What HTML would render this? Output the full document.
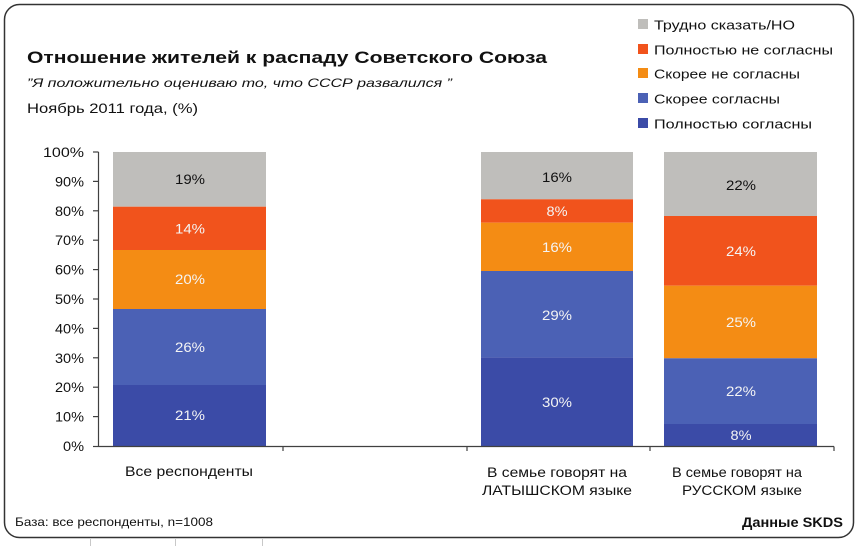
<!DOCTYPE html>
<html>
<head>
<meta charset="utf-8">
<style>
  html,body{margin:0;padding:0;background:#fff;}
  svg{display:block;}
  text{font-family:"Liberation Sans","DejaVu Sans",sans-serif;}
</style>
</head>
<body>
<svg width="860" height="546" viewBox="0 0 860 546" xmlns="http://www.w3.org/2000/svg">
  <rect x="0" y="0" width="860" height="546" fill="#fff"/>
  <g stroke="#c8c8c8" stroke-width="1">
    <line x1="90.5" y1="539" x2="90.5" y2="546"/>
    <line x1="175.5" y1="539" x2="175.5" y2="546"/>
    <line x1="262.5" y1="539" x2="262.5" y2="546"/>
  </g>
  <rect x="4.5" y="4.5" width="849" height="533" rx="15" ry="15" fill="#fff" stroke="#333" stroke-width="1.5"/>

  <text x="27" y="63" font-size="17" font-weight="bold" fill="#111" textLength="520" lengthAdjust="spacingAndGlyphs">Отношение жителей к распаду Советского Союза</text>
  <text x="27" y="87" font-size="12" font-style="italic" fill="#111" textLength="425" lengthAdjust="spacingAndGlyphs">”Я положительно оцениваю то, что СССР развалился ”</text>
  <text x="27" y="113" font-size="14" fill="#111" textLength="171" lengthAdjust="spacingAndGlyphs">Ноябрь 2011 года, (%)</text>

  <rect x="638" y="19" width="10" height="10" fill="#BFBEBB"/>
  <text x="654" y="29.5" font-size="13" fill="#111" textLength="141" lengthAdjust="spacingAndGlyphs">Трудно сказать/НО</text>
  <rect x="638" y="44" width="10" height="10" fill="#F1531C"/>
  <text x="654" y="54.5" font-size="13" fill="#111" textLength="179" lengthAdjust="spacingAndGlyphs">Полностью не согласны</text>
  <rect x="638" y="68" width="10" height="10" fill="#F48C14"/>
  <text x="654" y="78.5" font-size="13" fill="#111" textLength="146" lengthAdjust="spacingAndGlyphs">Скорее не согласны</text>
  <rect x="638" y="93" width="10" height="10" fill="#4B61B5"/>
  <text x="654" y="103.5" font-size="13" fill="#111" textLength="126" lengthAdjust="spacingAndGlyphs">Скорее согласны</text>
  <rect x="638" y="118" width="10" height="10" fill="#3B4BA7"/>
  <text x="654" y="128.5" font-size="13" fill="#111" textLength="158" lengthAdjust="spacingAndGlyphs">Полностью согласны</text>

  <rect x="113" y="152" width="153" height="54.7" fill="#BFBEBB"/>
  <rect x="113" y="206.7" width="153" height="43.3" fill="#F1531C"/>
  <rect x="113" y="250" width="153" height="59" fill="#F48C14"/>
  <rect x="113" y="309" width="153" height="76" fill="#4B61B5"/>
  <rect x="113" y="385" width="153" height="61" fill="#3B4BA7"/>

  <rect x="481" y="152" width="152" height="47.3" fill="#BFBEBB"/>
  <rect x="481" y="199.3" width="152" height="23.4" fill="#F1531C"/>
  <rect x="481" y="222.7" width="152" height="48.3" fill="#F48C14"/>
  <rect x="481" y="271" width="152" height="86.3" fill="#4B61B5"/>
  <rect x="481" y="357.3" width="152" height="88.7" fill="#3B4BA7"/>

  <rect x="664" y="152" width="153" height="64" fill="#BFBEBB"/>
  <rect x="664" y="216" width="153" height="69.7" fill="#F1531C"/>
  <rect x="664" y="285.7" width="153" height="72.6" fill="#F48C14"/>
  <rect x="664" y="358.3" width="153" height="65.7" fill="#4B61B5"/>
  <rect x="664" y="424" width="153" height="22" fill="#3B4BA7"/>

  <g font-size="13.5" text-anchor="middle">
    <text x="190" y="184" fill="#111" textLength="30" lengthAdjust="spacingAndGlyphs">19%</text>
    <text x="190" y="233.5" fill="#f4f4f4" textLength="30" lengthAdjust="spacingAndGlyphs">14%</text>
    <text x="190" y="284" fill="#f4f4f4" textLength="30" lengthAdjust="spacingAndGlyphs">20%</text>
    <text x="190" y="352" fill="#f4f4f4" textLength="30" lengthAdjust="spacingAndGlyphs">26%</text>
    <text x="190" y="420" fill="#f4f4f4" textLength="30" lengthAdjust="spacingAndGlyphs">21%</text>

    <text x="557" y="182" fill="#111" textLength="30" lengthAdjust="spacingAndGlyphs">16%</text>
    <text x="557" y="216" fill="#f4f4f4" textLength="21" lengthAdjust="spacingAndGlyphs">8%</text>
    <text x="557" y="252" fill="#f4f4f4" textLength="30" lengthAdjust="spacingAndGlyphs">16%</text>
    <text x="557" y="320" fill="#f4f4f4" textLength="30" lengthAdjust="spacingAndGlyphs">29%</text>
    <text x="557" y="407" fill="#f4f4f4" textLength="30" lengthAdjust="spacingAndGlyphs">30%</text>

    <text x="741" y="190" fill="#111" textLength="30" lengthAdjust="spacingAndGlyphs">22%</text>
    <text x="741" y="256" fill="#f4f4f4" textLength="30" lengthAdjust="spacingAndGlyphs">24%</text>
    <text x="741" y="327" fill="#f4f4f4" textLength="30" lengthAdjust="spacingAndGlyphs">25%</text>
    <text x="741" y="396" fill="#f4f4f4" textLength="30" lengthAdjust="spacingAndGlyphs">22%</text>
    <text x="741" y="440" fill="#f4f4f4" textLength="21" lengthAdjust="spacingAndGlyphs">8%</text>
  </g>

  <g stroke="#404040" stroke-width="1.2" fill="none">
    <line x1="98.5" y1="152" x2="98.5" y2="446.5"/>
    <line x1="98.5" y1="446.5" x2="834" y2="446.5"/>
    <line x1="93" y1="152" x2="98.5" y2="152"/>
    <line x1="93" y1="181.4" x2="98.5" y2="181.4"/>
    <line x1="93" y1="210.8" x2="98.5" y2="210.8"/>
    <line x1="93" y1="240.2" x2="98.5" y2="240.2"/>
    <line x1="93" y1="269.6" x2="98.5" y2="269.6"/>
    <line x1="93" y1="299" x2="98.5" y2="299"/>
    <line x1="93" y1="328.4" x2="98.5" y2="328.4"/>
    <line x1="93" y1="357.8" x2="98.5" y2="357.8"/>
    <line x1="93" y1="387.2" x2="98.5" y2="387.2"/>
    <line x1="93" y1="416.6" x2="98.5" y2="416.6"/>
    <line x1="93" y1="446.5" x2="98.5" y2="446.5"/>
    <line x1="283" y1="446.5" x2="283" y2="451"/>
    <line x1="467" y1="446.5" x2="467" y2="451"/>
    <line x1="650" y1="446.5" x2="650" y2="451"/>
    <line x1="834" y1="446.5" x2="834" y2="451"/>
  </g>

  <g font-size="13.5" fill="#111" text-anchor="end">
    <text x="84" y="157" textLength="41" lengthAdjust="spacingAndGlyphs">100%</text>
    <text x="84" y="186.4" textLength="29" lengthAdjust="spacingAndGlyphs">90%</text>
    <text x="84" y="215.8" textLength="29" lengthAdjust="spacingAndGlyphs">80%</text>
    <text x="84" y="245.2" textLength="29" lengthAdjust="spacingAndGlyphs">70%</text>
    <text x="84" y="274.6" textLength="29" lengthAdjust="spacingAndGlyphs">60%</text>
    <text x="84" y="304" textLength="29" lengthAdjust="spacingAndGlyphs">50%</text>
    <text x="84" y="333.4" textLength="29" lengthAdjust="spacingAndGlyphs">40%</text>
    <text x="84" y="362.8" textLength="29" lengthAdjust="spacingAndGlyphs">30%</text>
    <text x="84" y="392.2" textLength="29" lengthAdjust="spacingAndGlyphs">20%</text>
    <text x="84" y="421.6" textLength="29" lengthAdjust="spacingAndGlyphs">10%</text>
    <text x="84" y="451" textLength="21" lengthAdjust="spacingAndGlyphs">0%</text>
  </g>

  <g font-size="13.5" fill="#111" text-anchor="middle">
    <text x="189" y="476" textLength="128" lengthAdjust="spacingAndGlyphs">Все респонденты</text>
    <text x="557" y="477" textLength="140" lengthAdjust="spacingAndGlyphs">В семье говорят на</text>
    <text x="557" y="495" textLength="150" lengthAdjust="spacingAndGlyphs">ЛАТЫШСКОМ языке</text>
    <text x="737" y="477" textLength="130" lengthAdjust="spacingAndGlyphs">В семье говорят на</text>
    <text x="742" y="495" textLength="120" lengthAdjust="spacingAndGlyphs">РУССКОМ языке</text>
  </g>

  <text x="15" y="526" font-size="12" fill="#111" textLength="198" lengthAdjust="spacingAndGlyphs">База: все респонденты, n=1008</text>
  <text x="843" y="527" font-size="14" font-weight="bold" fill="#111" text-anchor="end" textLength="101" lengthAdjust="spacingAndGlyphs">Данные SKDS</text>
</svg>
</body>
</html>
